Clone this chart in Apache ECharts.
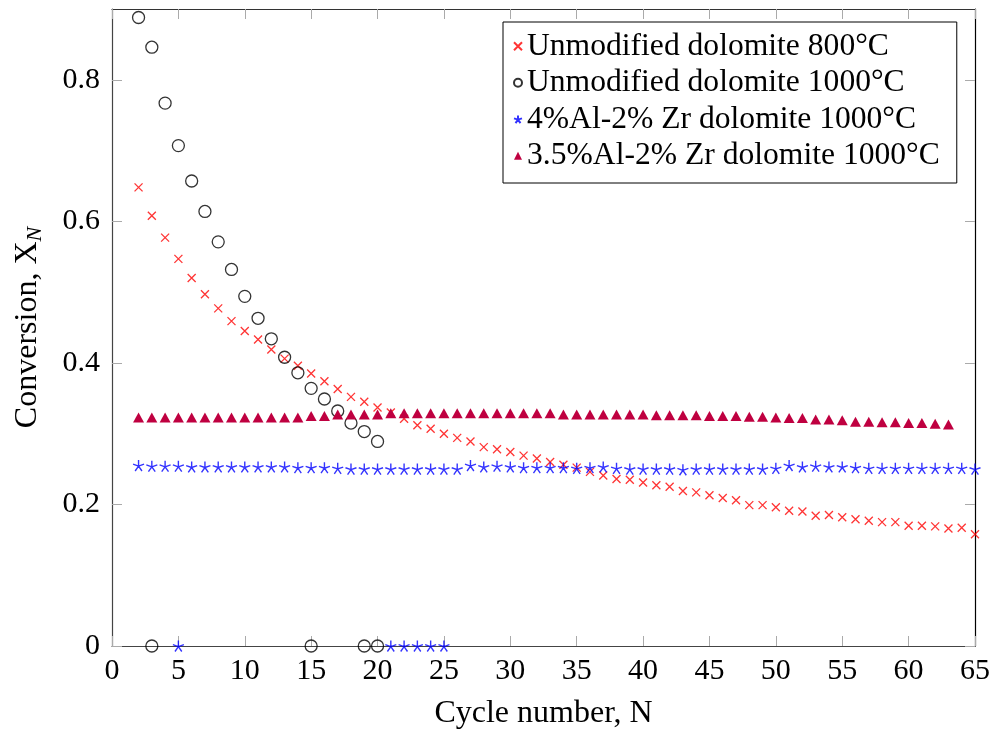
<!DOCTYPE html>
<html>
<head>
<meta charset="utf-8">
<script src="https://cdn.jsdelivr.net/npm/echarts@6/dist/echarts.min.js"></script>
<style>
  html, body { margin: 0; padding: 0; background: #fff; }
  #chart { width: 992px; height: 729px; }
</style>
</head>
<body>
<div id="chart"></div>
<script>
var seriesNames = [
    'Unmodified dolomite 800°C',
    'Unmodified dolomite 1000°C',
    '4%Al-2% Zr dolomite 1000°C',
    '3.5%Al-2% Zr dolomite 1000°C'
];

// cycles 2..65
var unmod800 = [
    0.648,0.608,0.577,0.547,0.520,0.497,0.477,0.459,0.445,0.433,
    0.419,0.406,0.396,0.385,0.374,0.363,0.352,0.345,0.337,0.330,
    0.321,0.312,0.307,0.300,0.294,0.289,0.281,0.278,0.274,0.269,
    0.265,0.260,0.256,0.252,0.246,0.241,0.236,0.235,0.231,0.227,
    0.225,0.219,0.217,0.213,0.209,0.206,0.199,0.199,0.196,0.191,
    0.190,0.184,0.185,0.182,0.179,0.177,0.175,0.175,0.170,0.170,
    0.169,0.166,0.167,0.158
];
// cycles 2..20
var unmod1000 = [
    0.888,0.846,0.767,0.707,0.657,0.614,0.571,0.532,0.494,0.463,
    0.434,0.408,0.386,0.364,0.349,0.332,0.315,0.303,0.289
];
var unmod1000Zeros = [3, 15, 19, 20];
// cycles 2..65
var al4zr2 = [
    0.255,0.254,0.254,0.254,0.253,0.253,0.253,0.253,0.253,0.253,
    0.253,0.253,0.252,0.252,0.252,0.251,0.250,0.250,0.250,0.250,
    0.250,0.250,0.250,0.250,0.250,0.255,0.253,0.254,0.253,0.252,
    0.252,0.252,0.252,0.251,0.252,0.253,0.251,0.250,0.250,0.250,
    0.250,0.249,0.250,0.250,0.250,0.250,0.250,0.250,0.251,0.255,
    0.253,0.254,0.253,0.253,0.252,0.251,0.251,0.251,0.251,0.251,
    0.251,0.251,0.251,0.250
];
var al4zr2Zeros = [5, 21, 22, 23, 24, 25];
// cycles 2..63
var al35zr2 = [
    0.323,0.323,0.323,0.323,0.323,0.323,0.323,0.323,0.323,0.323,
    0.323,0.323,0.323,0.325,0.325,0.327,0.327,0.327,0.327,0.329,
    0.329,0.329,0.329,0.329,0.329,0.329,0.329,0.329,0.329,0.329,
    0.329,0.329,0.327,0.327,0.327,0.327,0.327,0.327,0.327,0.326,
    0.326,0.326,0.326,0.325,0.325,0.325,0.324,0.324,0.323,0.322,
    0.322,0.320,0.320,0.319,0.317,0.317,0.316,0.316,0.315,0.315,
    0.314,0.313
];
var firstCycle = 2;

var xTicks = [0,5,10,15,20,25,30,35,40,45,50,55,60,65];
var yTicks = [0,0.2,0.4,0.6,0.8];

function toPoints(vals) {
    return vals.map(function (v, i) { return [firstCycle + i, v]; });
}
function zeroPoints(cycles) {
    return cycles.map(function (n) { return [n, 0]; });
}

var serif = 'Liberation Serif';
var crossPath = 'path://M0,0L10,10M10,0L0,10';
var starPath = 'path://M5,5L5,0M5,5L9.76,3.45M5,5L7.94,9.05M5,5L2.06,9.05M5,5L0.24,3.45';
var tickStyle = {color: '#aaa', width: 1};

var myChart = echarts.init(document.getElementById('chart'));

var option = {
    animation: false,
    backgroundColor: '#fff',
    grid: {left: 112, right: 17, top: 9, bottom: 83, outerBoundsMode: 'none'},
    legend: {
        orient: 'vertical', left: 503, top: 22,
        padding: [6, 17, 9, 10],
        itemGap: 0, itemWidth: 8, itemHeight: 8,
        borderColor: '#000', borderWidth: 1, backgroundColor: '#fff',
        textStyle: {fontFamily: serif, fontSize: 31.6, color: '#000', lineHeight: 36.5},
        data: seriesNames
    },
    xAxis: [{
        type: 'value', min: 0, max: 65, interval: 5,
        name: 'Cycle number, N', nameLocation: 'middle', nameGap: 52, nameMoveOverlap: false,
        nameTextStyle: {fontFamily: serif, fontSize: 32, color: '#000', lineHeight: 32},
        axisLine: {show: true, onZero: false, lineStyle: {color: '#444', width: 1.2}},
        axisTick: {show: true, inside: true, length: 10, customValues: xTicks, lineStyle: tickStyle},
        axisLabel: {customValues: xTicks, margin: 10, fontFamily: serif, fontSize: 30, color: '#000'},
        splitLine: {show: false}
    }, {
        type: 'value', min: 0, max: 65, interval: 5, position: 'top',
        axisLine: {show: true, onZero: false, lineStyle: {color: '#333', width: 1.2}},
        axisTick: {show: true, inside: true, length: 10, customValues: xTicks, lineStyle: tickStyle},
        axisLabel: {show: false},
        splitLine: {show: false}
    }],
    yAxis: [{
        type: 'value', min: 0, max: 0.9,
        name: '{m|Conversion, X}{sub|N}', nameLocation: 'middle', nameGap: 66, nameMoveOverlap: false,
        nameTextStyle: {
            fontFamily: serif, fontSize: 32, color: '#000',
            rich: {
                m: {fontFamily: serif, fontSize: 32, color: '#000'},
                sub: {fontFamily: serif, fontSize: 22, fontStyle: 'italic', color: '#000', padding: [14, 0, 0, 0]}
            }
        },
        axisLine: {show: true, onZero: false, lineStyle: {color: '#444', width: 1.2}},
        axisTick: {show: true, inside: true, length: 10, customValues: yTicks, lineStyle: tickStyle},
        axisLabel: {customValues: yTicks, margin: 12, fontFamily: serif, fontSize: 30, color: '#000'},
        splitLine: {show: false}
    }, {
        type: 'value', min: 0, max: 0.9, position: 'right',
        axisLine: {show: true, onZero: false, lineStyle: {color: '#000', width: 1.2}},
        axisTick: {show: true, inside: true, length: 10, customValues: yTicks, lineStyle: tickStyle},
        axisLabel: {show: false},
        splitLine: {show: false}
    }],
    series: [
        {
            name: seriesNames[0], type: 'scatter', symbol: crossPath, symbolSize: 8,
            itemStyle: {color: 'rgba(0,0,0,0)', borderColor: '#ff0000', borderWidth: 1.3},
            data: toPoints(unmod800)
        },
        {
            name: seriesNames[1], type: 'scatter', symbol: 'circle', symbolSize: 12,
            itemStyle: {color: 'rgba(0,0,0,0)', borderColor: '#000', borderWidth: 1.3},
            data: toPoints(unmod1000).concat(zeroPoints(unmod1000Zeros))
        },
        {
            name: seriesNames[2], type: 'scatter', symbol: starPath, symbolSize: 11,
            itemStyle: {color: 'rgba(0,0,0,0)', borderColor: '#0000ff', borderWidth: 1.4},
            data: toPoints(al4zr2).concat(zeroPoints(al4zr2Zeros))
        },
        {
            name: seriesNames[3], type: 'scatter', symbol: 'triangle', symbolSize: [11, 10],
            itemStyle: {color: '#bf0040', opacity: 1},
            data: toPoints(al35zr2)
        }
    ]
};

myChart.setOption(option);
</script>
</body>
</html>
